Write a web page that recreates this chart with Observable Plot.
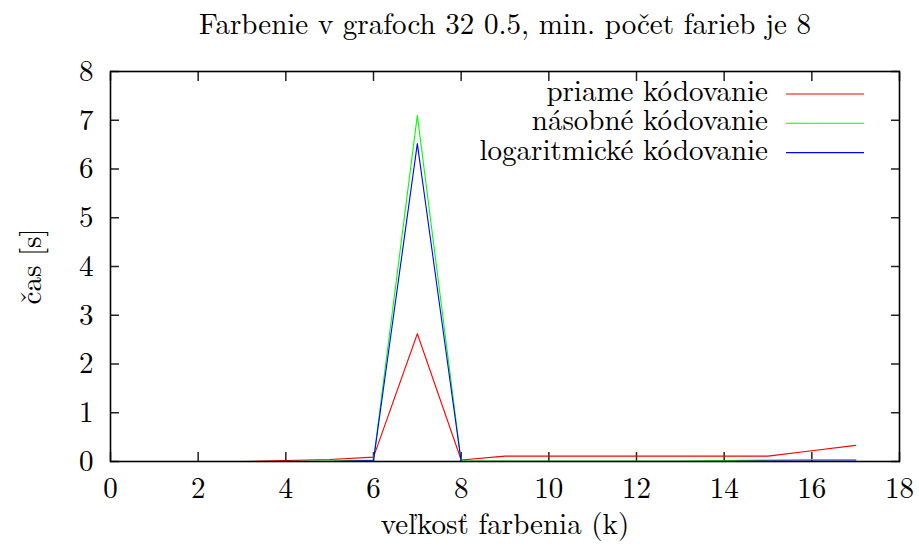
<!DOCTYPE html>
<html>
<head>
<meta charset="utf-8">
<script src="https://cdn.jsdelivr.net/npm/d3@7"></script>
<script src="https://cdn.jsdelivr.net/npm/@observablehq/plot@0.6"></script>
<style>
  html, body { margin: 0; padding: 0; background: #fff; }
  #wrap { position: relative; width: 919px; height: 546px; }
  #legend { position: absolute; left: 0; top: 0; pointer-events: none; }
</style>
</head>
<body>
<div id="wrap"></div>
<script>
const title = "Farbenie v grafoch 32 0.5, min. počet farieb je 8";
const xLabel = "veľkosť farbenia (k)";
const yLabel = "čas [s]";
const seriesNames = ["priame kódovanie", "násobné kódovanie", "logaritmické kódovanie"];
const seriesColors = ["#ff0000", "#00ff00", "#0000ff"];
const k = [2, 3, 4, 5, 6, 7, 8, 9, 10, 11, 12, 13, 14, 15, 16, 17];
const priame =        [0.00, 0.00, 0.02, 0.04, 0.09, 2.62, 0.03, 0.11, 0.11, 0.11, 0.11, 0.11, 0.11, 0.11, 0.22, 0.33];
const nasobne =       [0.00, 0.00, 0.00, 0.01, 0.03, 7.10, 0.01, 0.01, 0.01, 0.01, 0.01, 0.01, 0.02, 0.03, 0.04, 0.04];
const logaritmicke =  [0.00, 0.00, 0.00, 0.00, 0.02, 6.52, 0.00, 0.00, 0.00, 0.00, 0.00, 0.00, 0.00, 0.01, 0.01, 0.01];
const xTicks = [0, 2, 4, 6, 8, 10, 12, 14, 16, 18];
const yTicks = [0, 1, 2, 3, 4, 5, 6, 7, 8];

const allSeries = [priame, nasobne, logaritmicke];
const data = [];
allSeries.forEach((vals, si) => vals.forEach((v, i) => data.push({k: k[i], t: v, s: seriesNames[si]})));

const font = "Latin Modern Roman";
const fs = 29;
const chart = Plot.plot({
  width: 919,
  height: 546,
  marginLeft: 110,
  marginRight: 20,
  marginTop: 71,
  marginBottom: 85,
  style: {fontFamily: font, fontSize: fs + "px", background: "#fff", color: "#000"},
  x: {domain: [0, 18]},
  y: {domain: [0, 8]},
  color: {domain: seriesNames, range: seriesColors},
  marks: [
    Plot.axisX({anchor: "bottom", ticks: xTicks, tickSize: 0, tickPadding: 16, fontSize: fs, fontFamily: font, label: null}),
    Plot.axisX({anchor: "bottom", ticks: xTicks, tickSize: -9, text: null, label: null, stroke: "#222", strokeWidth: 1.5}),
    Plot.axisX({anchor: "top", ticks: xTicks, tickSize: -9, text: null, label: null, stroke: "#222", strokeWidth: 1.5}),
    Plot.axisY({anchor: "left", ticks: yTicks, tickSize: 0, tickPadding: 17, fontSize: fs, fontFamily: font, label: null}),
    Plot.axisY({anchor: "left", ticks: yTicks, tickSize: -9, text: null, label: null, stroke: "#222", strokeWidth: 1.5}),
    Plot.axisY({anchor: "right", ticks: yTicks, tickSize: -9, text: null, label: null, stroke: "#222", strokeWidth: 1.5}),
    Plot.line(data, {x: "k", y: "t", z: "s", stroke: "s", strokeWidth: 1.1}),
    Plot.frame({stroke: "#000", strokeWidth: 1.6}),
    Plot.text([title], {frameAnchor: "top", lineAnchor: "middle", textAnchor: "middle", dy: -47, fontSize: fs, fontFamily: font, text: d => d}),
    Plot.text([xLabel], {frameAnchor: "bottom", lineAnchor: "middle", textAnchor: "middle", dy: 63, fontSize: fs, fontFamily: font, text: d => d}),
    Plot.text([yLabel], {frameAnchor: "left", lineAnchor: "middle", textAnchor: "middle", dx: -79, rotate: -90, fontSize: fs, fontFamily: font, text: d => d})
  ]
});
const wrap = document.getElementById("wrap");
wrap.appendChild(chart);

// Legend overlay (top-right, inside the frame)
const ns = "http://www.w3.org/2000/svg";
const lg = document.createElementNS(ns, "svg");
lg.setAttribute("id", "legend");
lg.setAttribute("width", 919);
lg.setAttribute("height", 546);
seriesNames.forEach((name, i) => {
  const baseline = 101 + i * 29.3;
  const t = document.createElementNS(ns, "text");
  t.setAttribute("x", 768);
  t.setAttribute("y", baseline);
  t.setAttribute("text-anchor", "end");
  t.setAttribute("font-family", font);
  t.setAttribute("font-size", fs);
  t.textContent = name;
  lg.appendChild(t);
  const l = document.createElementNS(ns, "line");
  l.setAttribute("x1", 786);
  l.setAttribute("x2", 864);
  l.setAttribute("y1", baseline - 7);
  l.setAttribute("y2", baseline - 7);
  l.setAttribute("stroke", seriesColors[i]);
  l.setAttribute("stroke-width", 1.1);
  lg.appendChild(l);
});
wrap.appendChild(lg);
</script>
</body>
</html>
